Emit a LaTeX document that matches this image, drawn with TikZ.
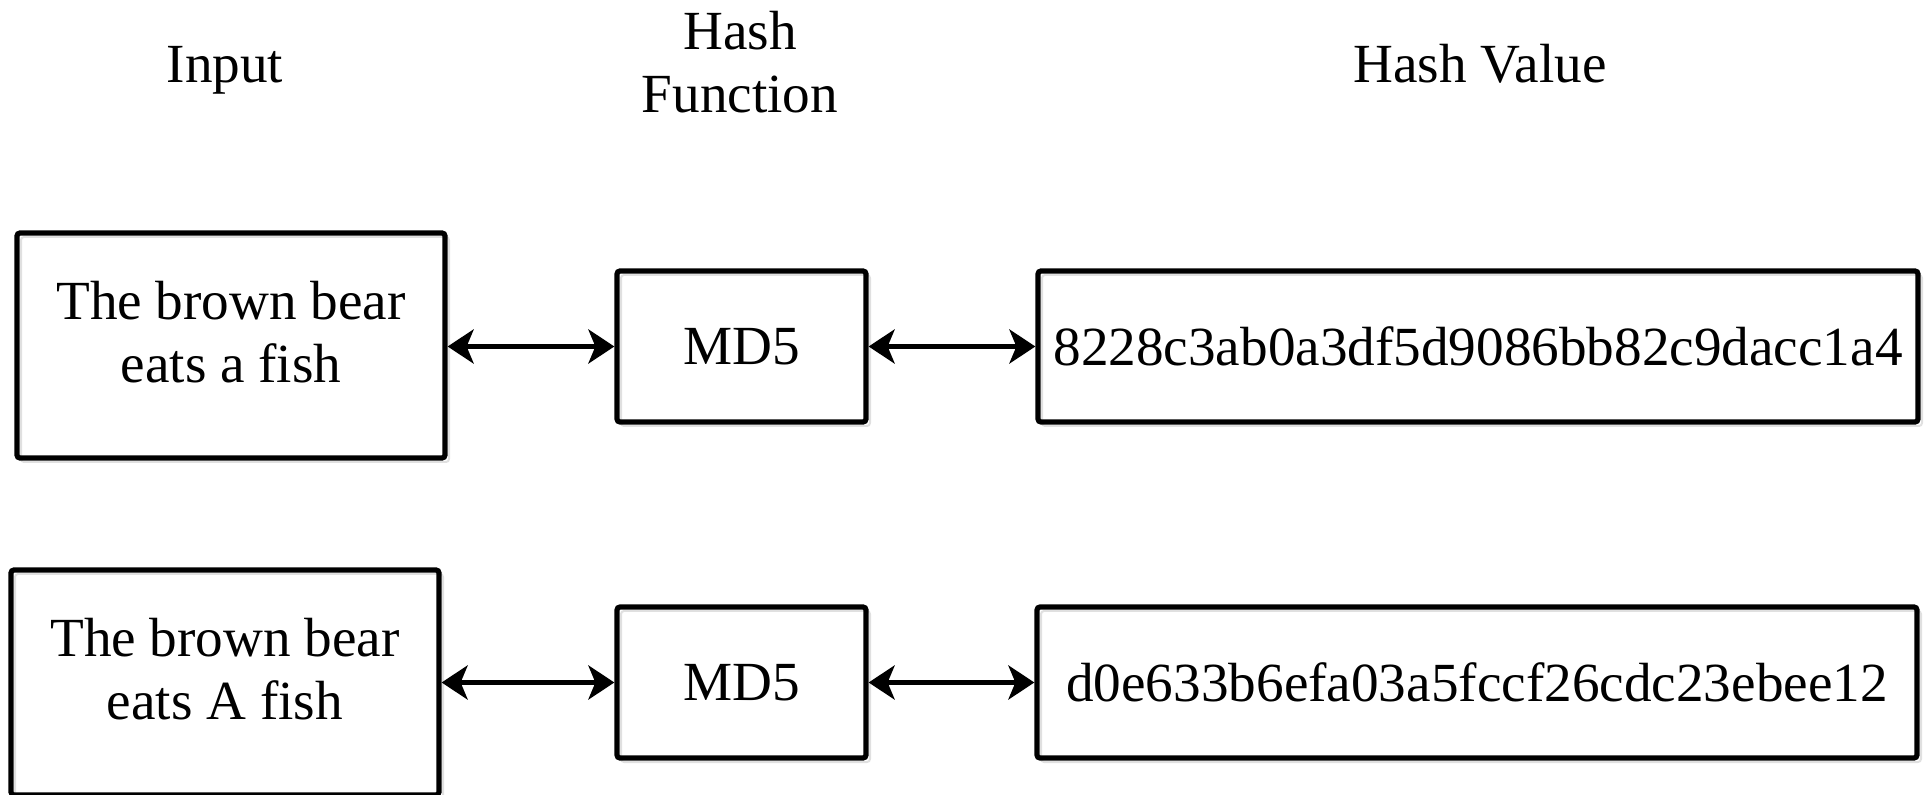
\documentclass[tikz,border=0pt]{standalone}
\usepackage{fontspec}
\setmainfont{Liberation Serif}
\usetikzlibrary{arrows.meta,shadows}
\newcommand{\boxfont}{\fontsize{27.6}{31.5}\selectfont}
\tikzset{
	box/.style={draw, line width=2.6pt, rounded corners=1.5pt, inner sep=0pt, align=center, font=\boxfont,
		drop shadow={shadow xshift=2pt, shadow yshift=-2pt, fill=none, draw=black!12, line width=1pt, opacity=1}},
	inbox/.style={box, minimum width=214pt, minimum height=112.5pt, text depth=13.5pt},
	fnbox/.style={box, minimum width=124.5pt, minimum height=75.5pt},
	valbox/.style={box, minimum width=440pt, minimum height=75.5pt},
	head/.style={align=center, font=\boxfont, inner sep=0pt},
	link/.style={{Stealth[length=13pt,width=17pt,inset=3.5pt]}-{Stealth[length=13pt,width=17pt,inset=3.5pt]}, line width=2.4pt}
}

\begin{document}
\begin{tikzpicture}[x=0.5pt, y=-0.5pt]
			%%%%% START %%%%%
			\useasboundingbox (0, 0) rectangle (1931, 795);
			
			% column titles
			\node[head, anchor=base] (tin) at (225, 83) {Input};
			\node[head] (tfn) at (740, 62) {Hash\\Function};
			\node[head, anchor=base] (tval) at (1480, 83) {Hash Value};
			
			% first row
			\node[inbox] (in1) at (231, 345.5) {The brown bear\\eats a fish};
			\node[fnbox] (md1) at (741.5, 346.5) {MD5};
			\node[valbox] (hv1) at (1478, 346.5) {8228c3ab0a3df5d9086bb82c9dacc1a4};
			
			\draw[link] (md1.west -| in1.east) -- (md1.west);
			\draw[link] (md1.east) -- (hv1.west);
			
			% second row
			\node[inbox] (in2) at (225, 682.5) {The brown bear\\eats A fish};
			\node[fnbox] (md2) at (741.5, 682.5) {MD5};
			\node[valbox] (hv2) at (1477, 682.5) {d0e633b6efa03a5fccf26cdc23ebee12};
			
			\draw[link] (md2.west -| in2.east) -- (md2.west);
			\draw[link] (md2.east) -- (hv2.west);
			
			%%%%% END %%%%%
\end{tikzpicture}
\end{document}
